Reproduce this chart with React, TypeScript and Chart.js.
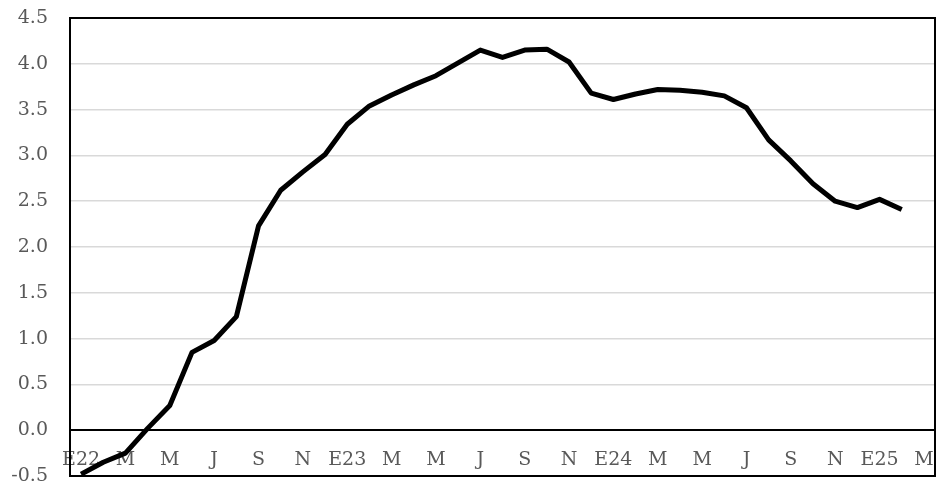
import React, { useEffect, useRef } from "react";
import { Chart, registerables } from "chart.js";

Chart.register(...registerables);

// Monthly categories, Jan 2022 – Mar 2025 (Spanish month initials, year on January)
const months: string[] = [
  "E22", "F", "M", "A", "M", "J", "J", "A", "S", "O", "N", "D",
  "E23", "F", "M", "A", "M", "J", "J", "A", "S", "O", "N", "D",
  "E24", "F", "M", "A", "M", "J", "J", "A", "S", "O", "N", "D",
  "E25", "F", "M",
];

// Series values, one per month (last month has no observation yet)
const values: (number | null)[] = [
  -0.48, -0.35, -0.25, 0.02, 0.27, 0.85, 0.98, 1.24, 2.23, 2.62, 2.82, 3.01,
  3.34, 3.54, 3.66, 3.77, 3.87, 4.01, 4.15, 4.07, 4.15, 4.16, 4.02, 3.68,
  3.61, 3.67, 3.72, 3.71, 3.69, 3.65, 3.52, 3.17, 2.94, 2.69, 2.50, 2.43,
  2.52, 2.41, null,
];

const yMin = -0.5;
const yMax = 4.5;
const yStep = 0.5;

const FONT = "'DejaVu Serif', serif";
const LABEL_GRAY = "#595959";

const frame = {
  id: "frame",
  afterDatasetsDraw(chart: Chart) {
    const { ctx, chartArea } = chart;
    ctx.save();
    ctx.strokeStyle = "#000";
    ctx.lineWidth = 2;
    ctx.strokeRect(
      chartArea.left,
      chartArea.top,
      chartArea.right - chartArea.left,
      chartArea.bottom - chartArea.top
    );
    ctx.restore();
  },
};

export default function App() {
  const ref = useRef<HTMLCanvasElement | null>(null);

  useEffect(() => {
    if (!ref.current) return;
    const chart = new Chart(ref.current, {
      type: "line",
      data: {
        labels: months,
        datasets: [
          {
            data: values,
            borderColor: "#000",
            borderWidth: 5,
            pointRadius: 0,
            tension: 0,
            borderJoinStyle: "round",
            fill: false,
          },
        ],
      },
      options: {
        animation: false,
        responsive: true,
        maintainAspectRatio: false,
        layout: { padding: { left: 0, top: 18, right: 2, bottom: 10 } },
        plugins: { legend: { display: false }, tooltip: { enabled: false } },
        scales: {
          x: {
            position: { y: 0 } as any,
            offset: true,
            grid: { display: false, drawTicks: false },
            border: { display: true, color: "#000", width: 2 },
            ticks: {
              autoSkip: false,
              maxRotation: 0,
              padding: 18,
              color: LABEL_GRAY,
              font: { family: FONT, size: 19 },
              callback: (_v: any, i: number) => (i % 2 === 0 ? months[i] : ""),
            },
            afterFit: (s: any) => {
              s.height = 0;
              s.paddingLeft = 0;
              s.paddingRight = 0;
              s.paddingTop = 0;
              s.paddingBottom = 0;
            },
          },
          y: {
            min: yMin,
            max: yMax,
            grid: {
              drawTicks: false,
              lineWidth: 1.5,
              color: (c: any) => (c.tick && c.tick.value === 0 ? "#000" : "#d9d9d9"),
            },
            border: { display: false },
            ticks: {
              stepSize: yStep,
              padding: 22,
              color: LABEL_GRAY,
              font: { family: FONT, size: 19 },
              callback: (v: any) => Number(v).toFixed(1),
            },
            afterFit: (s: any) => {
              s.width = 70;
              s.paddingTop = 0;
              s.paddingBottom = 0;
            },
          },
        },
      },
      plugins: [frame],
    });
    return () => chart.destroy();
  }, []);

  return (
    <div style={{ position: "fixed", left: 0, top: 0, width: 937, height: 486, background: "#fff" }}>
      <canvas ref={ref} />
    </div>
  );
}
